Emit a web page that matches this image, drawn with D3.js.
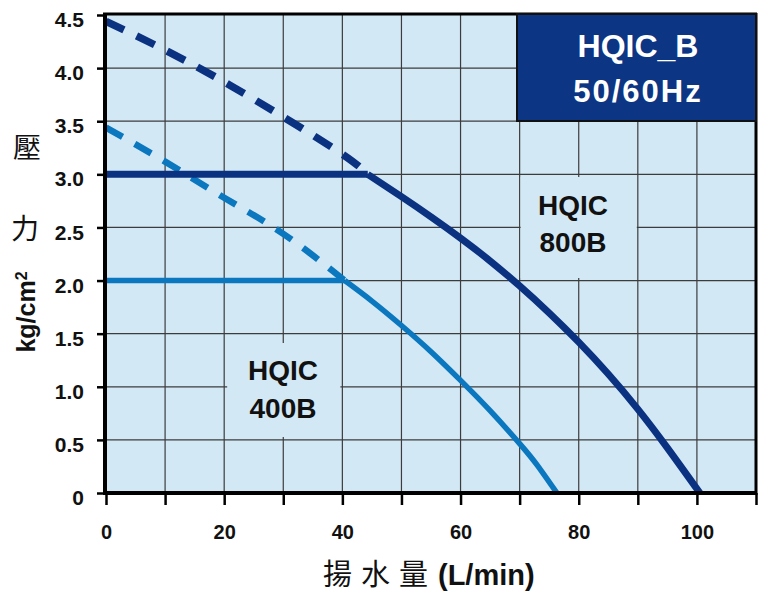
<!DOCTYPE html>
<html><head><meta charset="utf-8">
<script src="https://cdn.jsdelivr.net/npm/d3@7"></script>
<style>body{margin:0;background:#fff} svg{display:block}</style></head>
<body>
<svg id="c" width="768" height="597"></svg>
<script>
// ---- data ----
const xTicks = [0,10,20,30,40,50,60,70,80,90,100,110];
const xLabels = [0,20,40,60,80,100];
const yTicks = [0,0.5,1.0,1.5,2.0,2.5,3.0,3.5,4.0,4.5];
const yLabels = ["0","0.5","1.0","1.5","2.0","2.5","3.0","3.5","4.0","4.5"];

const flow800Dash = [0,10,20,30,40,44.3];
const head800Dash = [4.44,4.17,3.87,3.54,3.19,3.0];
const flow800Flat = [0,44.3];
const head800Flat = [3.0,3.0];
const flow800 = [44.3,50,55,60,65,70,75,80,85,90,95,100.5];
const head800 = [3.0,2.79,2.6,2.4,2.185,1.95,1.695,1.42,1.12,0.79,0.425,0];

const flow400Dash = [0,10,20,30,40.4];
const head400Dash = [3.44,3.12,2.78,2.44,2.0];
const flow400Flat = [0,40.4];
const head400Flat = [2.0,2.0];
const flow400 = [40.4,45,50,55,60,65,70,73,76.3];
const head400 = [2.0,1.807,1.577,1.33,1.06,0.775,0.465,0.26,0];

const titleLines = ["HQIC_B","50/60Hz"];
const label800 = ["HQIC","800B"];
const label400 = ["HQIC","400B"];

// ---- chart ----
const svg = d3.select("#c");
const L=106, R=756, T=15, B=493;
const x = d3.scaleLinear().domain([0,110]).range([L,R]);
const y = d3.scaleLinear().domain([0,4.5]).range([B,T]);

const navy = "#0b3281", mid = "#0a77bf", bg = "#d3e8f5";

svg.append("rect").attr("x",L).attr("y",T-1).attr("width",R-L).attr("height",B-T+1).attr("fill",bg);

// gridlines
const grid = svg.append("g");
grid.selectAll("line.v").data(xTicks.slice(1,-1)).join("line")
  .attr("x1",d=>x(d)).attr("x2",d=>x(d)).attr("y1",T).attr("y2",B)
  .attr("stroke","#3c3c3c").attr("stroke-width",1.2);
grid.selectAll("line.h").data(yTicks.slice(1,-1)).join("line")
  .attr("x1",L).attr("x2",R).attr("y1",d=>y(d)).attr("y2",d=>y(d))
  .attr("stroke","#3c3c3c").attr("stroke-width",1.2);

// label backgrounds (cover grid)
svg.append("rect").attr("x",x(70)+1).attr("y",177).attr("width",x(90)-x(70)-2).attr("height",101).attr("fill",bg);
svg.append("rect").attr("x",x(20)+3).attr("y",343).attr("width",x(40)-x(20)-5).attr("height",94).attr("fill",bg);

const line = d3.line().x(d=>x(d[0])).y(d=>y(d[1]));
const curve = d3.line().x(d=>x(d[0])).y(d=>y(d[1])).curve(d3.curveNatural);
const zip = (a,b)=>a.map((v,i)=>[v,b[i]]);

// 400B
svg.append("path").attr("d",curve(zip(flow400Dash,head400Dash))).attr("fill","none")
  .attr("stroke",mid).attr("stroke-width",6.5).attr("stroke-dasharray","19,14");
svg.append("path").attr("d",line(zip(flow400Flat,head400Flat))).attr("fill","none")
  .attr("stroke",mid).attr("stroke-width",5.5);
svg.append("path").attr("d",curve(zip(flow400,head400))).attr("fill","none")
  .attr("stroke",mid).attr("stroke-width",5.5);

// 800B
svg.append("path").attr("d",curve(zip(flow800Dash,head800Dash))).attr("fill","none")
  .attr("stroke",navy).attr("stroke-width",7.5).attr("stroke-dasharray","20,14");
svg.append("path").attr("d",line(zip(flow800Flat,head800Flat))).attr("fill","none")
  .attr("stroke",navy).attr("stroke-width",7);
svg.append("path").attr("d",curve(zip(flow800,head800))).attr("fill","none")
  .attr("stroke",navy).attr("stroke-width",7);

// axes
const yAxis = svg.append("g").attr("transform",`translate(${L},0)`)
  .call(d3.axisLeft(y).tickValues(yTicks).tickSize(9).tickFormat((d,i)=>yLabels[i]));
yAxis.select(".domain").remove();
yAxis.selectAll(".tick line").attr("stroke","#000").attr("stroke-width",2.5);
yAxis.selectAll(".tick text").attr("x",-22).attr("dy","0.55em")
  .style("font-family","Liberation Sans, Arial, sans-serif").style("font-weight","bold")
  .style("font-size","21px").attr("fill","#111");

const xAxis = svg.append("g").attr("transform",`translate(0,${B})`)
  .call(d3.axisBottom(x).tickValues(xTicks).tickSize(12).tickFormat(d=>xLabels.includes(d)?String(d):""));
xAxis.select(".domain").remove();
xAxis.selectAll(".tick line").attr("stroke","#000").attr("stroke-width",2.5);
xAxis.selectAll(".tick text").attr("y",32)
  .style("font-family","Liberation Sans, Arial, sans-serif").style("font-weight","bold")
  .style("font-size","20px").attr("fill","#111");

// frame
svg.append("line").attr("x1",L-1).attr("x2",L-1).attr("y1",T-2).attr("y2",B+2).attr("stroke","#000").attr("stroke-width",4);
svg.append("line").attr("x1",L-3).attr("x2",R+1).attr("y1",B).attr("y2",B).attr("stroke","#000").attr("stroke-width",4);
svg.append("line").attr("x1",R).attr("x2",R).attr("y1",T-2).attr("y2",B+2).attr("stroke","#000").attr("stroke-width",3);
svg.append("line").attr("x1",L-3).attr("x2",R+1).attr("y1",T-1).attr("y2",T-1).attr("stroke","#000").attr("stroke-width",3);

// title box
svg.append("rect").attr("x",517).attr("y",14).attr("width",R-517).attr("height",107)
  .attr("fill","#0c3584").attr("stroke","#111").attr("stroke-width",2);
svg.append("text").attr("x",638).attr("y",57).attr("text-anchor","middle")
  .style("font-family","Liberation Sans, Arial, sans-serif").style("font-weight","bold")
  .style("font-size","32px").attr("fill","#fff").text(titleLines[0]);
svg.append("text").attr("x",638).attr("y",102).attr("text-anchor","middle")
  .style("font-family","Liberation Sans, Arial, sans-serif").style("font-weight","bold")
  .style("font-size","31px").style("letter-spacing","2px").attr("fill","#fff").text(titleLines[1]);

// curve labels
function lbl(lines, cx, y1, y2){
  [y1,y2].forEach((yy,i)=>svg.append("text").attr("x",cx).attr("y",yy).attr("text-anchor","middle")
    .style("font-family","Liberation Sans, Arial, sans-serif").style("font-weight","bold")
    .style("font-size","28px").attr("fill","#111").text(lines[i]));
}
lbl(label800, 573, 215, 252);
lbl(label400, 283, 380, 418);

// axis titles
const cjk = "'Noto Sans CJK TC','Noto Sans CJK SC',sans-serif";
svg.append("text").attr("x",27).attr("y",158).attr("text-anchor","middle")
  .style("font-family",cjk).style("font-size","28px").attr("fill","#111").text("壓");
svg.append("text").attr("x",25).attr("y",239).attr("text-anchor","middle")
  .style("font-family",cjk).style("font-size","28px").attr("fill","#111").text("力");
const yl = svg.append("text").attr("transform","translate(35,312) rotate(-90)").attr("text-anchor","middle")
  .style("font-family","Liberation Sans, Arial, sans-serif").style("font-weight","bold")
  .style("font-size","25px").attr("fill","#111");
yl.append("tspan").text("kg/cm");
yl.append("tspan").attr("dy","-0.5em").style("font-size","16px").text("2");

const xl = svg.append("text").attr("x",323).attr("y",585).attr("fill","#111");
xl.append("tspan").style("font-family",cjk).style("font-size","29px").text("揚");
xl.append("tspan").attr("x",361).style("font-family",cjk).style("font-size","29px").text("水");
xl.append("tspan").attr("x",399).style("font-family",cjk).style("font-size","29px").text("量");
xl.append("tspan").attr("x",438).style("font-family","Liberation Sans, Arial, sans-serif")
  .style("font-weight","bold").style("font-size","29px").text("(L/min)");
</script>
</body></html>
